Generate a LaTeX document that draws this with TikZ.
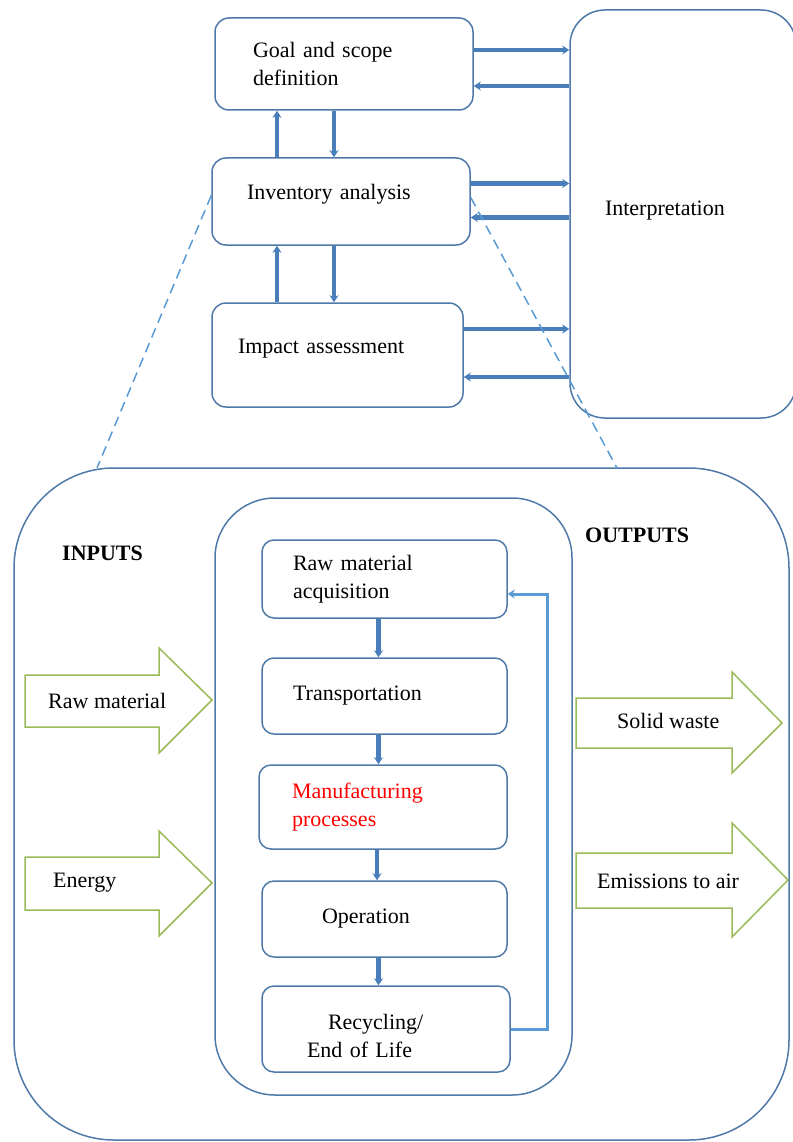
\documentclass[tikz,border=0pt]{standalone}
\usepackage{fontspec}
\setmainfont{Liberation Serif}
\usepackage{tikz}
\usetikzlibrary{arrows.meta}

\definecolor{boxblue}{RGB}{79,122,168}
\definecolor{flowblue}{RGB}{74,126,187}
\definecolor{backblue}{RGB}{91,155,213}
\definecolor{arrowgreen}{RGB}{155,187,89}
\newcommand{\lcafont}{\fontsize{22}{28}\selectfont}

\tikzset{
  stage/.style={draw=boxblue, line width=1.5pt, rounded corners=14pt, align=left, font=\lcafont, inner ysep=0pt},
  frame/.style={draw=boxblue, line width=1.5pt, inner sep=0pt},
  flow/.style={draw=flowblue, line width=4.5pt, -{Stealth[length=7pt,width=9pt]}},
  loopback/.style={draw=backblue, line width=3pt, -{Stealth[length=7pt,width=9pt]}},
  zoomline/.style={draw=backblue, line width=1.5pt, dash pattern=on 10pt off 6pt},
  blockarrow/.style={draw=arrowgreen, line width=1.5pt, fill=white},
  tag/.style={font=\lcafont, anchor=base west, inner sep=0pt},
}

\begin{document}
\begin{tikzpicture}[x=1pt, y=-1pt]
\useasboundingbox (0,0) rectangle (792,1142);

% LCA framework
\node[stage, text width=182pt, inner xsep=38pt, minimum height=92pt] (goal) at (344,64) {Goal and scope\\definition};
\node[stage, text width=188pt, inner xsep=35pt, minimum height=87pt, text depth=19pt] (inv) at (341,201.5) {Inventory analysis};
\node[stage, text width=199pt, inner xsep=26pt, minimum height=104pt, text depth=17pt] (impact) at (337.5,355) {Impact assessment};
\node[stage, rounded corners=35pt, text width=156pt, inner xsep=35pt, minimum height=408pt, text depth=11pt] (interp) at (683,214) {Interpretation};

\draw[flow] ([yshift=14pt]goal.east) -- ([yshift=14pt]goal.east -| interp.west);
\draw[flow] ([yshift=-22pt]goal.east -| interp.west) -- ([yshift=-22pt]goal.east);
\draw[flow] ([yshift=18pt]inv.east) -- ([yshift=18pt]inv.east -| interp.west);
\draw[flow] ([yshift=-16pt]inv.east -| interp.west) -- ([yshift=-16pt]inv.east);
\draw[flow] ([yshift=26pt]impact.east) -- ([yshift=26pt]impact.east -| interp.west);
\draw[flow] ([yshift=-22pt]impact.east -| interp.west) -- ([yshift=-22pt]impact.east);

\draw[flow] ([xshift=-64pt]inv.north) -- ([xshift=-64pt]inv.north |- goal.south);
\draw[flow] ([xshift=-7pt]inv.north |- goal.south) -- ([xshift=-7pt]inv.north);
\draw[flow] ([xshift=-64pt]inv.south |- impact.north) -- ([xshift=-64pt]inv.south);
\draw[flow] ([xshift=-7pt]inv.south) -- ([xshift=-7pt]inv.south |- impact.north);

% life cycle stages
\node[frame, rounded corners=100pt, minimum width=775pt, minimum height=672pt] (outer) at (401.5,804) {};
\node[frame, rounded corners=60pt, minimum width=357pt, minimum height=597pt] (inner) at (393.5,796.5) {};

\coordinate (zoomL) at (97,468);
\coordinate (zoomR) at (617,468);
\draw[zoomline] ([yshift=6pt]inv.west) -- (zoomL);
\draw[zoomline] ([yshift=4pt]inv.east) -- (zoomR);

\node[tag, font=\lcafont\bfseries] (inputs) at (62,560) {INPUTS};
\node[tag, font=\lcafont\bfseries] (outputs) at (585,542) {OUTPUTS};

\draw[blockarrow] (25,675) -- (159,675) -- (159,648) -- (212,700) -- (159,753) -- (159,727) -- (25,727) -- cycle;
\draw[blockarrow] (25,857) -- (159,857) -- (159,831) -- (212,883) -- (159,936) -- (159,910) -- (25,910) -- cycle;
\draw[blockarrow] (576,698) -- (732,698) -- (732,672) -- (782,723) -- (732,773) -- (732,748) -- (576,748) -- cycle;
\draw[blockarrow] (576,853) -- (732,853) -- (732,823) -- (788,880) -- (732,937) -- (732,908) -- (576,908) -- cycle;
\node[tag] (rawin) at (48,708) {Raw material};
\node[tag] (energy) at (53,887) {Energy};
\node[tag] (waste) at (617,728) {Solid waste};
\node[tag] (emission) at (597,888) {Emissions to air};

\node[stage, rounded corners=12pt, text width=183pt, inner xsep=31pt, minimum height=78pt] (rawacq) at (384.5,579) {Raw material\\acquisition};
\node[stage, rounded corners=12pt, text width=183pt, inner xsep=31pt, minimum height=76pt] (transp) at (384.5,696) {Transportation};
\node[stage, rounded corners=12pt, text width=182pt, inner xsep=33pt, minimum height=84pt, text=red] (manuf) at (383,807) {Manufacturing\\processes};
\node[stage, rounded corners=12pt, text width=125pt, inner xsep=60pt, minimum height=76pt] (oper) at (384.5,919) {Operation};
\node[stage, rounded corners=12pt, text width=158pt, inner xsep=45pt, minimum height=86pt, text height=30pt] (recyc) at (386,1029) {\hspace*{21pt}Recycling/\\End of Life};

\foreach \a/\b in {rawacq/transp, transp/manuf, manuf/oper, oper/recyc}
  \draw[flow] ([xshift=-6pt]\a.south) -- ([xshift=-6pt]\a.south |- \b.north);

\draw[loopback] (recyc.east) -| ([xshift=40pt,yshift=-15pt]rawacq.east) -- ([yshift=-15pt]rawacq.east);

\end{tikzpicture}
\end{document}
